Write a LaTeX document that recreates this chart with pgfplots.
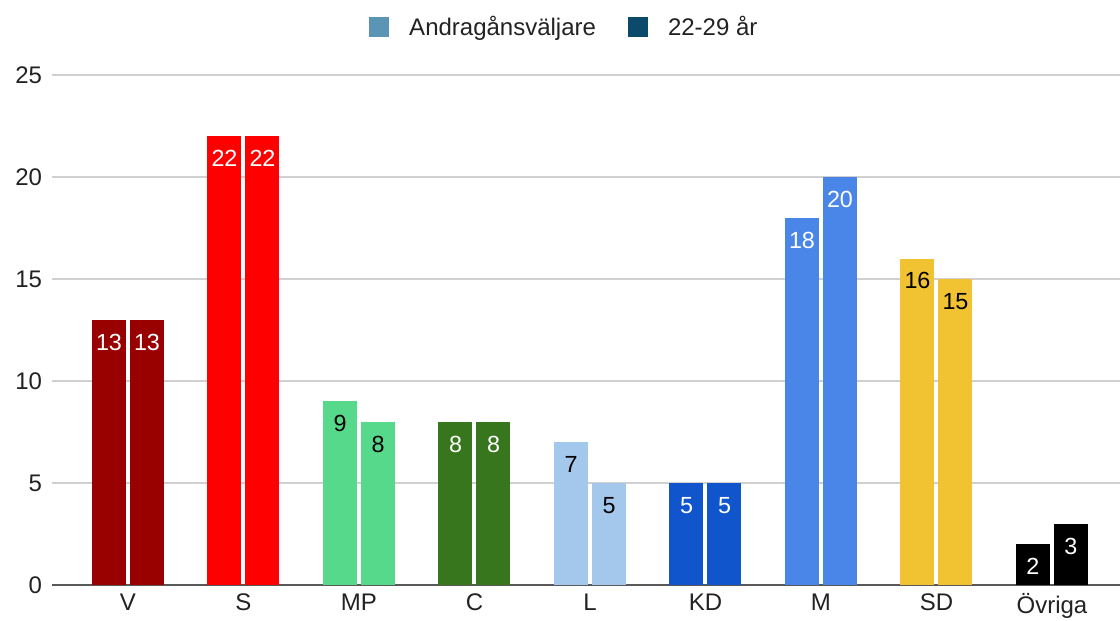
\documentclass[border=0pt]{standalone}
\usepackage{pgfplots}
\pgfplotsset{compat=1.18}
\usepackage{fontspec}
\setmainfont{Liberation Sans}
\definecolor{cV}{HTML}{990000}
\definecolor{cS}{HTML}{FF0000}
\definecolor{cMP}{HTML}{57D98C}
\definecolor{cC}{HTML}{38761D}
\definecolor{cL}{HTML}{A4C8EC}
\definecolor{cKD}{HTML}{1155CC}
\definecolor{cM}{HTML}{4A86E8}
\definecolor{cSD}{HTML}{F1C232}
\definecolor{cO}{HTML}{000000}
\definecolor{legA}{HTML}{5B95B5}
\definecolor{legB}{HTML}{0B4A6B}
\definecolor{gridc}{HTML}{D0D0D0}
\definecolor{txt}{HTML}{222222}
\newcommand{\pairbars}[5]{%
  \addplot[ybar, bar width=25.5pt, bar shift=-14.25pt, fill=#4, draw=none, forget plot,
    nodes near coords, every node near coord/.append style={text=#5, anchor=north, yshift=-7pt, xshift=-14.25pt}]
    coordinates {(#1,#2)};
  \addplot[ybar, bar width=25.5pt, bar shift=14.25pt, fill=#4, draw=none, forget plot,
    nodes near coords, every node near coord/.append style={text=#5, anchor=north, yshift=-7pt, xshift=14.25pt}]
    coordinates {(#1,#3)};
}
\begin{document}
\begin{tikzpicture}
\useasboundingbox (-39pt,-26.5pt) rectangle (801pt,438.75pt);
\begin{axis}[
  scale only axis,
  width=801pt, height=382.5pt,
  xmin=-0.658, xmax=8.589,
  ymin=0, ymax=25,
  ytick={0,5,10,15,20,25},
  xtick={0,1,2,3,4,5,6,7,8},
  xticklabels={V,S,MP,C,L,KD,M,SD,Övriga},
  ymajorgrids,
  grid style={gridc, line width=0.8pt},
  axis x line*=bottom,
  axis y line*=left,
  y axis line style={draw=none},
  x axis line style={draw=black!65, line width=0.9pt},
  major tick length=0pt,
  tick label style={font=\fontsize{18}{21}\selectfont, text=txt},
  yticklabel style={xshift=-4pt},
  xticklabel style={yshift=-3pt},
  /pgf/number format/assume math mode=true,
  nodes near coords style={font=\fontsize{17.5}{20}\selectfont},
  clip=false,
  legend columns=2,
  legend style={at={(0.5,1)}, anchor=center, xshift=-16pt, yshift=36pt, draw=none,
    font=\fontsize{18}{21}\selectfont, text=txt,
    /tikz/every odd column/.append style={column sep=13pt},
    /tikz/every even column/.append style={column sep=22pt}},
  legend image code/.code={\fill[#1] (0pt,-7.5pt) rectangle (15pt,7.5pt);},
]
\addlegendimage{fill=legA, draw=none}
\addlegendentry{Andragånsväljare}
\addlegendimage{fill=legB, draw=none}
\addlegendentry{22-29 år}
\pairbars{0}{13}{13}{cV}{white}
\pairbars{1}{22}{22}{cS}{white}
\pairbars{2}{9}{8}{cMP}{black}
\pairbars{3}{8}{8}{cC}{white}
\pairbars{4}{7}{5}{cL}{black}
\pairbars{5}{5}{5}{cKD}{white}
\pairbars{6}{18}{20}{cM}{white}
\pairbars{7}{16}{15}{cSD}{black}
\pairbars{8}{2}{3}{cO}{white}
\end{axis}
\end{tikzpicture}
\end{document}
